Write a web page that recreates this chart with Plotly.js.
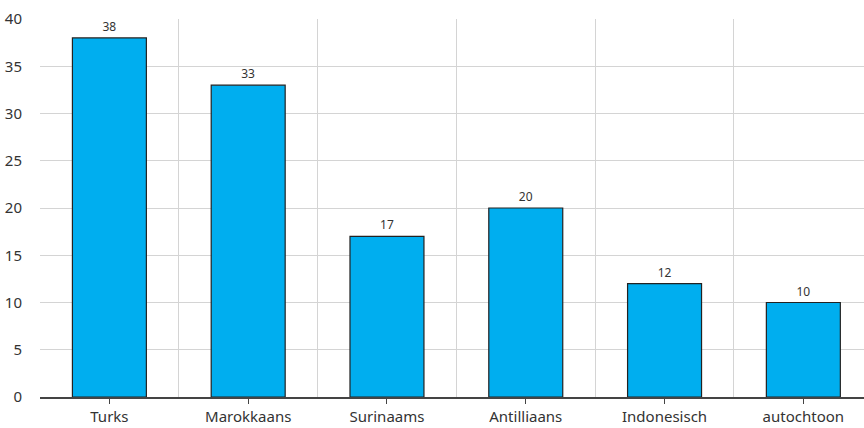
<!DOCTYPE html>
<html>
<head>
<meta charset="utf-8">
<script src="https://cdn.plot.ly/plotly-3.0.1.min.js"></script>
<style>html,body{margin:0;padding:0;background:#fff;}#chart{width:864px;height:428px;}</style>
</head>
<body>
<div id="chart"></div>
<script>
const categories = ["Turks", "Marokkaans", "Surinaams", "Antilliaans", "Indonesisch", "autochtoon"];
const values = [38, 33, 17, 20, 12, 10];
const yTicks = [0, 5, 10, 15, 20, 25, 30, 35, 40];

const fontFam = "'Noto Sans', 'Open Sans', sans-serif";

const bars = {
  type: "bar",
  x: categories,
  y: values,
  text: values.map(String),
  textposition: "outside",
  cliponaxis: false,
  textfont: {family: fontFam, size: 12, color: "#333"},
  marker: {color: "#00AEEF", line: {color: "#222", width: 1.2}},
  hoverinfo: "x+y"
};
// invisible trace to drive boundary gridlines
const gridTrace = {
  type: "bar",
  x: categories,
  y: values.map(() => 0),
  xaxis: "x2",
  showlegend: false,
  hoverinfo: "skip",
  marker: {color: "rgba(0,0,0,0)"}
};

const xRange = [-0.5, 5.437];

const layout = {
  width: 864,
  height: 428,
  margin: {l: 40, r: 0, t: 19, b: 31},
  paper_bgcolor: "#fff",
  plot_bgcolor: "#fff",
  showlegend: false,
  bargap: 0.467,
  font: {family: fontFam, size: 15, color: "#333"},
  xaxis: {
    type: "category",
    range: xRange,
    showgrid: false,
    showline: true,
    linecolor: "#444",
    linewidth: 1.5,
    ticks: "outside",
    ticklen: 5,
    tickwidth: 1,
    tickcolor: "#444",
    ticklabelstandoff: 0,
    tickfont: {family: fontFam, size: 15, color: "#333"},
    zeroline: false,
    fixedrange: true
  },
  xaxis2: {
    type: "category",
    overlaying: "x",
    range: xRange,
    tickson: "boundaries",
    showgrid: true,
    gridcolor: "#d4d4d4",
    gridwidth: 1,
    showticklabels: false,
    ticks: "",
    showline: false,
    zeroline: false
  },
  yaxis: {
    range: [0, 40],
    tickvals: yTicks,
    ticktext: yTicks.map(String),
    showgrid: true,
    gridcolor: "#d4d4d4",
    gridwidth: 1,
    zeroline: false,
    showline: false,
    ticks: "",
    ticklabelstandoff: 17,
    tickfont: {family: fontFam, size: 15, color: "#333"},
    fixedrange: true
  }
};

Plotly.newPlot("chart", [gridTrace, bars], layout, {displayModeBar: false, staticPlot: true});
</script>
</body>
</html>
